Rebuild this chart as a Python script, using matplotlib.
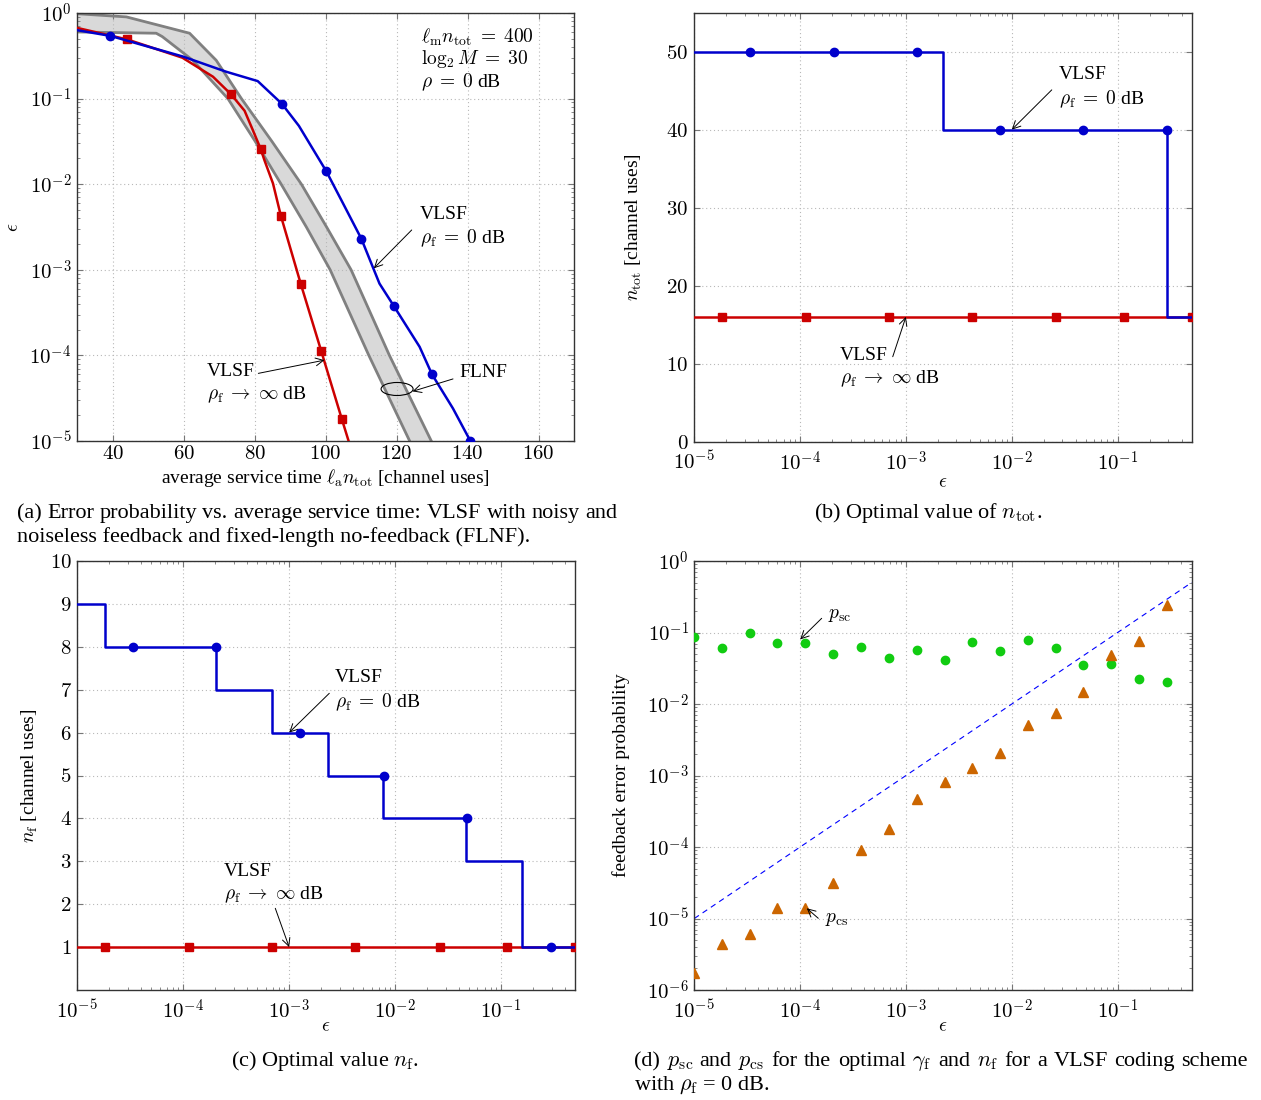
import numpy as np
import matplotlib
matplotlib.use('Agg')
import matplotlib.pyplot as plt
from matplotlib.patches import Ellipse
from matplotlib.ticker import FuncFormatter, FixedLocator, LogLocator, NullFormatter

plt.rcParams['font.family'] = 'Liberation Serif'
plt.rcParams['mathtext.fontset'] = 'cm'
plt.rcParams['font.size'] = 14

# ---- (a) error probability vs average service time
red_x = [30, 44.2, 59.7, 68.3, 73.4, 77.2, 79.5, 81.7, 82.8, 85.2, 87.4, 93.0, 98.8, 104.6, 106.5]
red_y = [0.67, 0.49, 0.30, 0.18, 0.112, 0.072, 0.043, 0.026, 0.019, 0.0102, 0.0043, 6.9e-4,
         1.12e-4, 1.8e-5, 1e-5]
red_marks = [1, 4, 7, 10, 11, 12, 13]

blue_x = [30, 39.4, 59.8, 72.0, 80.9, 87.7, 92.5, 100.2, 104.9, 110.1, 115.2, 119.2, 126.5,
          130.0, 135.9, 140.8]
blue_y = [0.63, 0.54, 0.31, 0.206, 0.16, 0.087, 0.048, 0.0142, 0.006, 2.3e-3, 6.9e-4, 3.8e-4,
          1.26e-4, 6.0e-5, 2.4e-5, 1e-5]
blue_marks = [1, 5, 7, 9, 11, 13, 15]

flnf_hi_x = [30, 43.9, 61.7, 69.2, 76.3, 84.9, 93.2, 100.3, 107.2, 118.0, 129.8]
flnf_hi_y = [0.98, 0.9, 0.58, 0.28, 0.1, 0.0316, 0.01, 3.16e-3, 1e-3, 1e-4, 1e-5]
flnf_lo_x = [30, 52.3, 54.0, 62.6, 72.5, 80.2, 87.5, 94.6, 101.3, 112.2, 123.7]
flnf_lo_y = [0.6, 0.58, 0.53, 0.28, 0.1, 0.0316, 0.01, 3.16e-3, 1e-3, 1e-4, 1e-5]

# ---- (b) optimal n_tot
b_step_x_blue = [1e-5, 2.24e-3, 0.294, 0.5]
b_step_y_blue = [50, 40, 16, 16]
b_mark_x_blue = [3.4e-5, 2.08e-4, 1.27e-3, 7.8e-3, 4.75e-2, 0.294]
b_mark_y_blue = [50, 50, 50, 40, 40, 40]
x_red = [1e-5, 0.5]
b_y_red = [16, 16]
mark_x_red = [1.84e-5, 1.13e-4, 6.9e-4, 4.2e-3, 2.64e-2, 0.114, 0.5]
b_mark_y_red = [16] * 7

# ---- (c) optimal n_f
c_step_x_blue = [1e-5, 1.83e-5, 2.06e-4, 6.9e-4, 2.33e-3, 7.7e-3, 4.72e-2, 0.158, 0.5]
c_step_y_blue = [9, 8, 7, 6, 5, 4, 3, 1, 1]
c_mark_x_blue = [3.36e-5, 2.06e-4, 1.26e-3, 7.8e-3, 4.8e-2, 0.294]
c_mark_y_blue = [8, 8, 6, 5, 4, 1]
c_y_red = [1, 1]
c_mark_y_red = [1] * 7

# ---- (d) feedback error probabilities
eps_d = [1.0e-5, 1.83e-5, 3.36e-5, 6.1e-5, 1.12e-4, 2.06e-4, 3.78e-4, 6.9e-4, 1.27e-3,
         2.32e-3, 4.24e-3, 7.8e-3, 1.43e-2, 2.6e-2, 4.75e-2, 8.7e-2, 0.16, 0.294]
p_sc = [0.0865, 0.060, 0.10, 0.071, 0.071, 0.050, 0.062, 0.0435, 0.057,
        0.041, 0.074, 0.056, 0.078, 0.061, 0.035, 0.0366, 0.0221, 0.0201]
p_cs = [1.75e-6, 4.4e-6, 6.1e-6, 1.39e-5, 1.39e-5, 3.1e-5, 9.1e-5, 1.77e-4, 4.7e-4,
        8.2e-4, 1.27e-3, 2.04e-3, 5.1e-3, 7.4e-3, 1.47e-2, 4.84e-2, 7.6e-2, 0.24]
diag = [1e-5, 0.5]

BLUE = '#0000cc'
RED = '#cc0000'
W, H = 1261, 1100
TXT = 14
TICK = 15
CAP = 16


def pow10(v, pos):
    return '$10^{%d}$' % int(round(np.log10(v)))


def plain(v, pos):
    return '$%g$' % v


def style(ax, xpad=7):
    ax.grid(True, which='major', color='#b8b8b8', linestyle=(0, (1, 2.5)), linewidth=0.8)
    ax.tick_params(which='both', direction='in', top=True, right=True, color='#777777',
                   labelsize=TICK)
    ax.tick_params(which='major', length=4, pad=4)
    ax.tick_params(axis='x', which='major', pad=xpad)
    ax.tick_params(which='minor', length=2)
    for s in ax.spines.values():
        s.set_color('#333333')
        s.set_linewidth(1.0)


def log_x(ax):
    ax.set_xscale('log')
    ax.set_xlim(1e-5, 0.5)
    ax.xaxis.set_major_locator(FixedLocator([1e-5, 1e-4, 1e-3, 1e-2, 1e-1]))
    ax.xaxis.set_major_formatter(FuncFormatter(pow10))
    ax.xaxis.set_minor_locator(LogLocator(subs=np.arange(2, 10)))
    ax.xaxis.set_minor_formatter(NullFormatter())


def arrow(ax, head, tail):
    ax.annotate('', xy=head, xycoords='data', xytext=tail, textcoords='axes fraction',
                arrowprops=dict(arrowstyle='->,head_length=0.4,head_width=0.2',
                                color='black', lw=0.7, shrinkA=0, shrinkB=0))


def label(ax, x, y, s):
    ax.text(x, y, s, transform=ax.transAxes, fontsize=TXT, va='center', linespacing=1.3)


RHO0 = 'VLSF\n' + r'$\rho_\mathrm{f}\;=\;0$ dB'
RHOINF = 'VLSF\n' + r'$\rho_\mathrm{f}\;\rightarrow\;\infty$ dB'

fig = plt.figure(figsize=(W / 100, H / 100), dpi=100)

# ================= (a)
ax = fig.add_axes([0.0611, 0.5991, 0.3941, 0.3891])
style(ax, xpad=3)
ax.fill(flnf_hi_x + flnf_lo_x[::-1], flnf_hi_y + flnf_lo_y[::-1], color='#d9d9d9', zorder=1)
ax.plot(flnf_hi_x, flnf_hi_y, color='#808080', lw=2.0, zorder=2)
ax.plot(flnf_lo_x, flnf_lo_y, color='#808080', lw=2.0, zorder=2)
ax.plot(red_x, red_y, color=RED, lw=1.8, marker='s', ms=5.5, markevery=red_marks, zorder=3)
ax.plot(blue_x, blue_y, color=BLUE, lw=1.8, marker='o', ms=6, markevery=blue_marks, zorder=3)
ax.set_yscale('log')
ax.set_xlim(30, 170)
ax.set_ylim(1e-5, 1)
ax.xaxis.set_major_locator(FixedLocator([40, 60, 80, 100, 120, 140, 160]))
ax.xaxis.set_major_formatter(FuncFormatter(plain))
ax.yaxis.set_major_locator(FixedLocator([1e-5, 1e-4, 1e-3, 1e-2, 1e-1, 1]))
ax.yaxis.set_major_formatter(FuncFormatter(pow10))
ax.yaxis.set_minor_locator(LogLocator(subs=np.arange(2, 10)))
ax.yaxis.set_minor_formatter(NullFormatter())
ax.set_xlabel(r'average service time $\ell_\mathrm{a} n_\mathrm{tot}$ [channel uses]', fontsize=TXT)
ax.xaxis.set_label_coords(0.5, -0.061)
ax.set_ylabel(r'$\epsilon$', fontsize=TXT)
ax.yaxis.set_label_coords(-0.11, 0.5)
ax.text(0.692, 0.942, r'$\ell_\mathrm{m} n_\mathrm{tot}\;=\;400$', transform=ax.transAxes,
        fontsize=TXT, va='center')
ax.text(0.692, 0.893, r'$\log_2 M\;=\;30$', transform=ax.transAxes, fontsize=TXT, va='center')
ax.text(0.692, 0.839, r'$\rho\;=\;0$ dB', transform=ax.transAxes, fontsize=TXT, va='center')
label(ax, 0.690, 0.498, RHO0)
arrow(ax, (113.6, 1.04e-3), (0.6734, 0.493))
ax.text(0.7686, 0.161, 'FLNF', transform=ax.transAxes, fontsize=TXT, va='center')
ax.add_patch(Ellipse((0.644, 0.1215), 0.0644, 0.0304, transform=ax.transAxes,
                     fill=False, ec='black', lw=0.8, zorder=4))
arrow(ax, (124.5, 3.8e-5), (0.7565, 0.145))
label(ax, 0.2616, 0.133, RHOINF)
arrow(ax, (99.7, 8.8e-5), (0.3648, 0.158))

# ================= (b)
ax = fig.add_axes([0.5504, 0.5985, 0.3947, 0.39])
style(ax)
log_x(ax)
ax.plot(x_red, b_y_red, color=RED, lw=1.8, zorder=3)
ax.plot(mark_x_red, b_mark_y_red, ls='none', color=RED, marker='s', ms=5.5, zorder=3)
ax.plot(b_step_x_blue, b_step_y_blue, color=BLUE, lw=1.8, drawstyle='steps-post', zorder=4)
ax.plot(b_mark_x_blue, b_mark_y_blue, ls='none', color=BLUE, marker='o', ms=6, zorder=4)
ax.set_ylim(0, 55)
ax.yaxis.set_major_locator(FixedLocator([0, 10, 20, 30, 40, 50]))
ax.yaxis.set_major_formatter(FuncFormatter(plain))
ax.set_ylabel(r'$n_\mathrm{tot}$ [channel uses]', fontsize=TXT)
ax.yaxis.set_label_coords(-0.10, 0.5)
ax.set_xlabel(r'$\epsilon$', fontsize=TXT)
ax.xaxis.set_label_coords(0.5, -0.075)
label(ax, 0.7334, 0.8245, RHO0)
arrow(ax, (1e-2, 40), (0.7187, 0.82))
label(ax, 0.2933, 0.1718, RHOINF)
arrow(ax, (1e-3, 16), (0.3992, 0.198))

# ================= (c)
ax = fig.add_axes([0.0613, 0.1, 0.3947, 0.39])
style(ax)
log_x(ax)
ax.plot(x_red, c_y_red, color=RED, lw=1.8, zorder=3)
ax.plot(mark_x_red, c_mark_y_red, ls='none', color=RED, marker='s', ms=5.5, zorder=3)
ax.plot(c_step_x_blue, c_step_y_blue, color=BLUE, lw=1.8, drawstyle='steps-post', zorder=4)
ax.plot(c_mark_x_blue, c_mark_y_blue, ls='none', color=BLUE, marker='o', ms=6, zorder=4)
ax.set_ylim(0, 10)
ax.yaxis.set_major_locator(FixedLocator(list(range(1, 11))))
ax.yaxis.set_major_formatter(FuncFormatter(plain))
ax.set_ylabel(r'$n_\mathrm{f}$ [channel uses]', fontsize=TXT)
ax.yaxis.set_label_coords(-0.075, 0.5)
ax.set_xlabel(r'$\epsilon$', fontsize=TXT)
ax.xaxis.set_label_coords(0.5, -0.065)
label(ax, 0.5178, 0.697, RHO0)
arrow(ax, (1e-3, 6), (0.5063, 0.6916))
label(ax, 0.2948, 0.247, RHOINF)
arrow(ax, (1e-3, 1), (0.3978, 0.1904))

# ================= (d)
ax = fig.add_axes([0.5506, 0.1, 0.3944, 0.39])
style(ax)
log_x(ax)
ax.set_yscale('log')
ax.plot(diag, diag, color='#0000ff', lw=0.8, ls=(0, (5, 4)), zorder=2)
ax.plot(eps_d, p_sc, ls='none', marker='o', ms=6, color='#11cc11', zorder=3)
ax.plot(eps_d, p_cs, ls='none', marker='^', ms=6.5, color='#cc6600', zorder=3)
ax.set_ylim(1e-6, 1)
ax.yaxis.set_major_locator(FixedLocator([1e-6, 1e-5, 1e-4, 1e-3, 1e-2, 1e-1, 1]))
ax.yaxis.set_major_formatter(FuncFormatter(pow10))
ax.yaxis.set_minor_locator(LogLocator(subs=np.arange(2, 10)))
ax.yaxis.set_minor_formatter(NullFormatter())
ax.set_ylabel('feedback error probability', fontsize=TXT)
ax.yaxis.set_label_coords(-0.13, 0.5)
ax.set_xlabel(r'$\epsilon$', fontsize=TXT)
ax.xaxis.set_label_coords(0.5, -0.065)
ax.text(0.2688, 0.8718, r'$p_\mathrm{sc}$', transform=ax.transAxes, fontsize=TXT, va='center')
arrow(ax, (1e-4, 0.080), (0.2561, 0.8664))
ax.text(0.2624, 0.1632, r'$p_\mathrm{cs}$', transform=ax.transAxes, fontsize=TXT, va='center')
arrow(ax, (1.155e-4, 1.39e-5), (0.2493, 0.1671))


# ================= captions (first lines justified like the LaTeX original)
def justify(x0, x1, base, s):
    words = s.split(' ')
    texts = [fig.text(0, 1 - base / H, w, fontsize=CAP, va='baseline') for w in words]
    r = fig.canvas.get_renderer()
    widths = [t.get_window_extent(r).width for t in texts]
    gap = (x1 - x0 - sum(widths)) / (len(words) - 1)
    x = x0
    for t, w in zip(texts, widths):
        t.set_x(x / W)
        x += w + gap


justify(17, 617, 518, '(a) Error probability vs. average service time: VLSF with noisy and')
fig.text(17 / W, 1 - 542 / H, 'noiseless feedback and fixed-length no-feedback (FLNF).',
         fontsize=CAP, va='baseline')
fig.text(928 / W, 1 - 518 / H, r'(b) Optimal value of $n_\mathrm{tot}$.',
         fontsize=CAP, va='baseline', ha='center')
fig.text(325 / W, 1 - 1066 / H, r'(c) Optimal value $n_\mathrm{f}$.',
         fontsize=CAP, va='baseline', ha='center')
justify(634, 1248, 1066, r'(d) $p_\mathrm{sc}$ and $p_\mathrm{cs}$ for the optimal '
        r'$\gamma_\mathrm{f}$ and $n_\mathrm{f}$ for a VLSF coding scheme')
fig.text(634 / W, 1 - 1090 / H, r'with $\rho_\mathrm{f}$ = 0 dB.', fontsize=CAP, va='baseline')

fig.savefig('out.png', dpi=100)
